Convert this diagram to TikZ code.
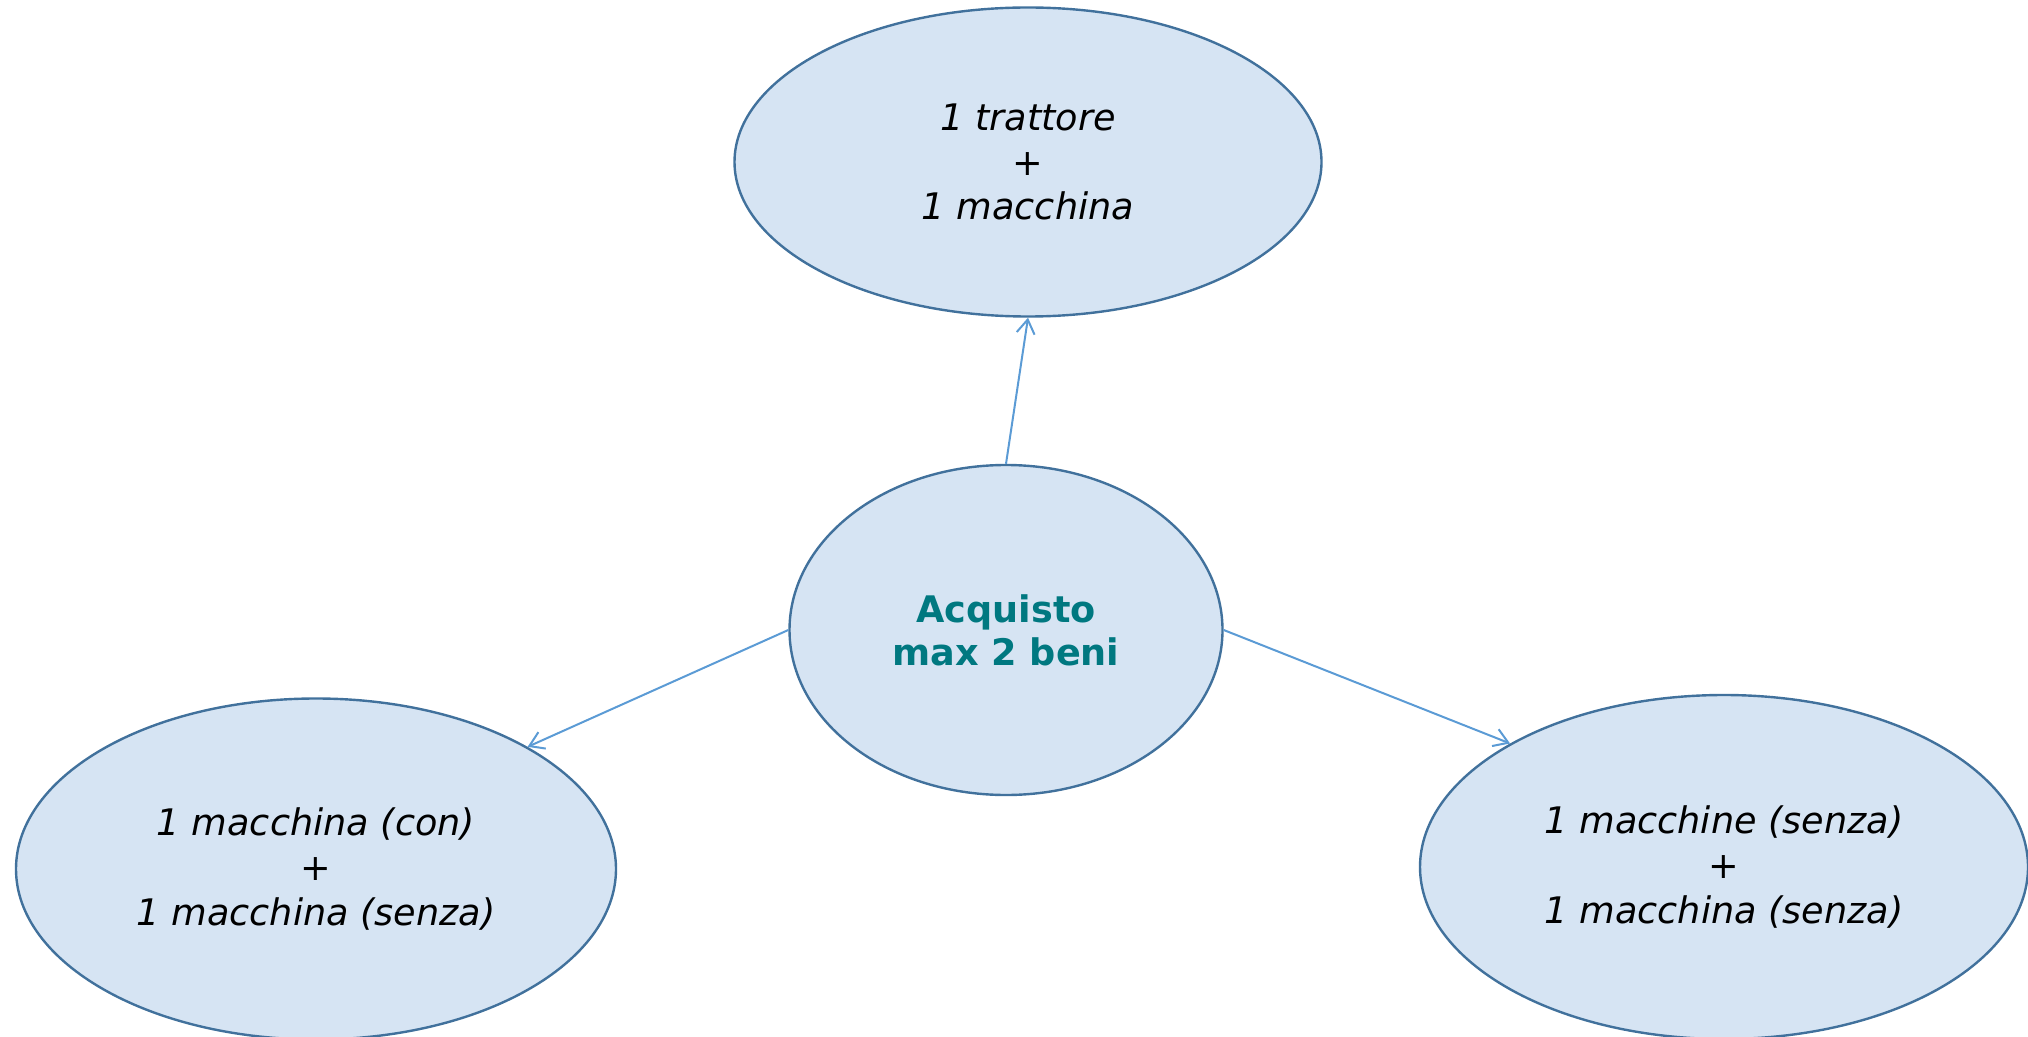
\documentclass[tikz,border=0pt]{standalone}
\usepackage{fontspec}
\setmainfont{DejaVu Sans}
\usetikzlibrary{shapes.geometric,arrows.meta}
\definecolor{ellfill}{RGB}{214,228,243}
\definecolor{elldraw}{RGB}{65,113,156}
\definecolor{arrowc}{RGB}{91,155,213}
\definecolor{teal}{RGB}{0,120,128}
\tikzset{
  bubble/.style={ellipse, draw=elldraw, fill=ellfill, line width=1.2pt, inner sep=0pt, align=center,
    font=\fontsize{18.3}{22.3}\selectfont\itshape},
  conn/.style={draw=arrowc, line width=1pt, -{Straight Barb[length=7pt,width=9pt]}}
}
\begin{document}
\begin{tikzpicture}[x=0.5pt,y=-0.5pt]
\path[use as bounding box] (0,0) rectangle (2028,1037);
\node[bubble, minimum width=293.5pt, minimum height=154.5pt] (top) at (1028,162) {1 trattore\\{\upshape +}\\1 macchina};
\node[bubble, minimum width=216.5pt, minimum height=165pt, font=\fontsize{18.3}{21.4}\selectfont\bfseries, text=teal] (mid) at (1006,630) {Acquisto\\max 2 beni};
\node[bubble, minimum width=300pt, minimum height=170.5pt] (left) at (316,869) {1 macchina (con)\\{\upshape +}\\1 macchina (senza)};
\node[bubble, minimum width=304pt, minimum height=172pt] (right) at (1724,867) {1 macchine (senza)\\{\upshape +}\\1 macchina (senza)};
\draw[conn] (mid.north) -- (top.south);
\draw[conn] (mid.west) -- (left.30);
\draw[conn] (mid.east) -- (right.150);
\end{tikzpicture}
\end{document}
